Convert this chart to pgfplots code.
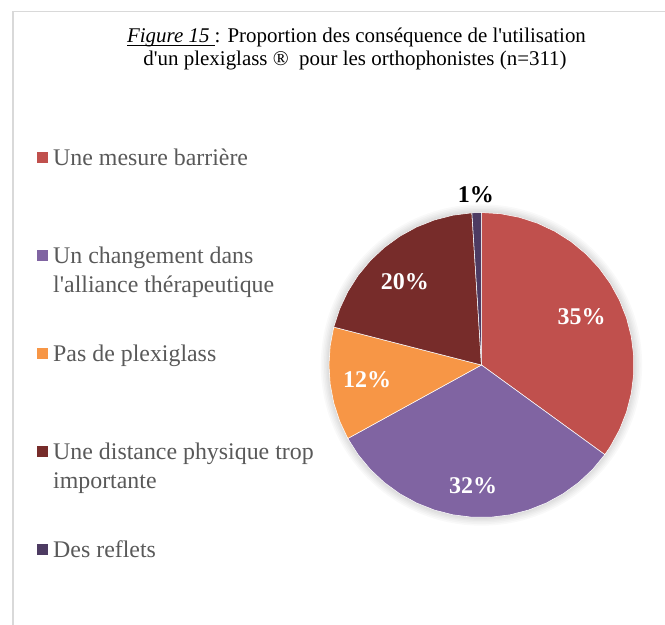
\documentclass[border=0pt]{standalone}
\usepackage{pgfplots}
\pgfplotsset{compat=1.18}
\usepgfplotslibrary{polar}
\usepackage{fontspec}
\setmainfont{Liberation Serif}
\definecolor{cA}{HTML}{C0504D}
\definecolor{cB}{HTML}{8064A2}
\definecolor{cC}{HTML}{F79646}
\definecolor{cD}{HTML}{772C2A}
\definecolor{cE}{HTML}{4D3B62}
\definecolor{legtext}{HTML}{595959}
\definecolor{framegray}{HTML}{D9D9D9}
\newcommand\ap{\textquotesingle}
\newcommand\ul[1]{\setbox0=\hbox{#1}\rlap{\rule[-2.4pt]{\wd0}{0.55pt}}\box0}
\begin{document}
\begin{tikzpicture}
\useasboundingbox (0pt,0pt) rectangle (498.75pt,-468.75pt);
\draw[framegray, line width=1.1pt] (9.6pt,-470pt) -- (9.6pt,-8.6pt) -- (500pt,-8.6pt);
\node[anchor=base, font=\fontsize{15.7pt}{17.25pt}\selectfont, inner sep=0pt] at (267.4pt,-31.7pt)
  {\ul{\textit{Figure 15 }}: Proportion des conséquence de l\ap utilisation};
\node[anchor=base, font=\fontsize{15.7pt}{17.25pt}\selectfont, inner sep=0pt] at (266.3pt,-49pt)
  {d\ap un plexiglass ®\ \ pour les orthophonistes (n=311)};
\begin{polaraxis}[
  at={(361.1pt,-273.75pt)}, anchor=center,
  scale only axis, width=228.75pt, height=228.75pt,
  xmin=0, xmax=360, ymin=0, ymax=1,
  hide axis, clip=false,
  legend image code/.code={\fill[#1, draw=none] (0pt,1.5pt) rectangle (8.25pt,9.4pt); \path (12pt,0pt);},
  legend style={draw=none, fill=none, inner sep=0pt, outer sep=0pt,
    at={(-0.9574,1.2082)}, anchor=north west,
    font=\fontsize{17.9pt}{21.75pt}\selectfont, text=legtext,
    nodes={inner sep=0pt, text height=12pt, text depth=61.5pt},
    cells={anchor=base west}, row sep=0pt, column sep=0pt},
  every axis plot/.append style={draw=white, line width=0.4pt},
]
% soft shadow around the pie
\fill[black, opacity=0.022] (axis cs:0,0) circle[radius=120.5pt];
\fill[black, opacity=0.022] (axis cs:0,0) circle[radius=119.3pt];
\fill[black, opacity=0.022] (axis cs:0,0) circle[radius=118.1pt];
\fill[black, opacity=0.022] (axis cs:0,0) circle[radius=117pt];
\fill[black, opacity=0.022] (axis cs:0,0) circle[radius=116pt];
\fill[black, opacity=0.022] (axis cs:0,0) circle[radius=115.2pt];
% slice 1: Une mesure barriere, 35 %
\addplot[fill=cA] coordinates {(0,0) (90,1) (82.8,1) (75.6,1) (68.4,1) (61.2,1) (54,1) (46.8,1) (39.6,1) (32.4,1) (25.2,1) (18,1) (10.8,1) (3.6,1) (-3.6,1) (-10.8,1) (-18,1) (-25.2,1) (-32.4,1) (-36,1)} -- cycle;
\addlegendentry{\parbox[t]{220pt}{Une mesure barrière}}
% slice 2: Un changement dans l'alliance therapeutique, 32 %
\addplot[fill=cB] coordinates {(0,0) (-36,1) (-43.2,1) (-50.4,1) (-57.6,1) (-64.8,1) (-72,1) (-79.2,1) (-86.4,1) (-93.6,1) (-100.8,1) (-108,1) (-115.2,1) (-122.4,1) (-129.6,1) (-136.8,1) (-144,1) (-151.2,1)} -- cycle;
\addlegendentry{\parbox[t]{220pt}{Un changement dans\\l\ap alliance thérapeutique}}
% slice 3: Pas de plexiglass, 12 %
\addplot[fill=cC] coordinates {(0,0) (-151.2,1) (-158.4,1) (-165.6,1) (-172.8,1) (-180,1) (-187.2,1) (-194.4,1)} -- cycle;
\addlegendentry{\parbox[t]{220pt}{Pas de plexiglass}}
% slice 4: Une distance physique trop importante, 20 %
\addplot[fill=cD] coordinates {(0,0) (-194.4,1) (-201.6,1) (-208.8,1) (-216,1) (-223.2,1) (-230.4,1) (-237.6,1) (-244.8,1) (-252,1) (-259.2,1) (-266.4,1)} -- cycle;
\addlegendentry{\parbox[t]{220pt}{Une distance physique trop\\importante}}
% slice 5: Des reflets, 1 %
\addplot[fill=cE] coordinates {(0,0) (-266.4,1) (-268.2,1) (-270,1)} -- cycle;
\addlegendentry{\parbox[t]{220pt}{Des reflets}}
% data labels
\begin{scope}[every node/.style={font=\fontsize{18pt}{20pt}\selectfont\bfseries}]
\node[white] at (axis cs:26,0.73) {35\%};
\node[white] at (axis cs:-94,0.79) {32\%};
\node[white] at (axis cs:-172.5,0.757) {12\%};
\node[white] at (axis cs:132.7,0.74) {20\%};
\node[black] at (axis cs:91.9,1.115) {1\%};
\end{scope}
\end{polaraxis}
\end{tikzpicture}
\end{document}
